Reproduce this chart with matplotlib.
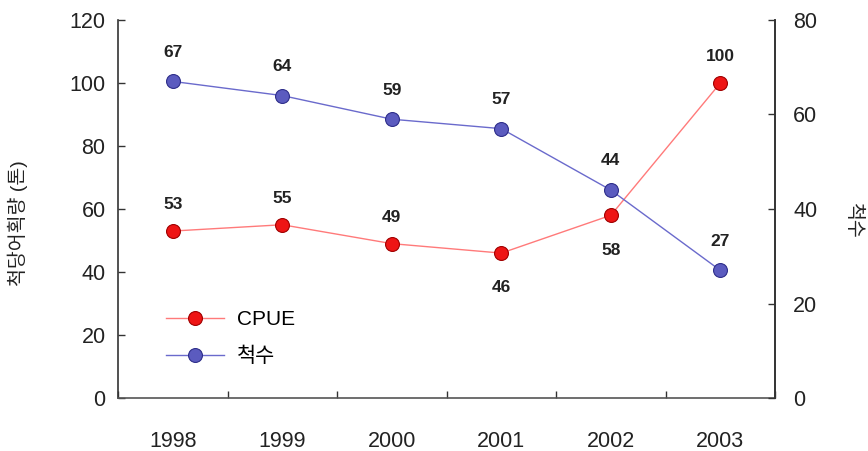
import numpy as np
import matplotlib
matplotlib.use('Agg')
import matplotlib.pyplot as plt
from matplotlib.lines import Line2D

# Fontes: latino em Liberation Sans, coreano cai para Noto Sans CJK KR
plt.rcParams['font.family'] = ['Liberation Sans', 'Noto Sans CJK KR']
plt.rcParams['axes.unicode_minus'] = False

anos = ['1998', '1999', '2000', '2001', '2002', '2003']
cpue = [53, 55, 49, 46, 58, 100]      # 척당어획량 (톤), eixo esquerdo
cheoksu = [67, 64, 59, 57, 44, 27]    # 척수, eixo direito
# rótulos do CPUE que ficam abaixo do ponto
cpue_abaixo = [False, False, False, True, True, False]

Cor_cpue_linha = '#ff7a7a'
Cor_cpue_ponto = '#ee1515'
Cor_cpue_borda = '#a00000'
Cor_ch_linha = '#6a6acc'
Cor_ch_ponto = '#5b5bbf'
Cor_ch_borda = '#2e2e8a'
Cor_eixo = '#333333'

fig = plt.figure(figsize=(8.68, 4.51), dpi=100)
ax1 = fig.add_axes([0.136, 0.1175, 0.757, 0.8382])
ax2 = ax1.twinx()

x = np.arange(len(anos))

ax1.plot(x, cpue, color=Cor_cpue_linha, linewidth=1.0, marker='o', markersize=10,
         markerfacecolor=Cor_cpue_ponto, markeredgecolor=Cor_cpue_borda,
         markeredgewidth=0.8, zorder=3)
ax2.plot(x, cheoksu, color=Cor_ch_linha, linewidth=1.0, marker='o', markersize=10,
         markerfacecolor=Cor_ch_ponto, markeredgecolor=Cor_ch_borda,
         markeredgewidth=0.8, zorder=3)

# rótulos de valor
for xi, v, baixo in zip(x, cpue, cpue_abaixo):
    dy = -25 if baixo else 19
    ax1.annotate(str(v), (xi, v), xytext=(0, dy), textcoords='offset points',
                 ha='center', va='center', fontsize=12.5, fontweight='bold',
                 color='#222222')
for xi, v in zip(x, cheoksu):
    ax2.annotate(str(v), (xi, v), xytext=(0, 21), textcoords='offset points',
                 ha='center', va='center', fontsize=12.5, fontweight='bold',
                 color='#222222')

ax1.set_xlim(-0.5, len(anos) - 0.5)
ax1.set_ylim(0, 120)
ax2.set_ylim(0, 80)
ax1.set_yticks(np.arange(0, 121, 20))
ax2.set_yticks(np.arange(0, 81, 20))

# anos no centro, traços nas divisões entre categorias
ax1.set_xticks(x)
ax1.set_xticklabels(anos)
ax1.set_xticks(np.arange(-0.5, len(anos) - 0.4, 1), minor=True)
ax1.tick_params(axis='x', which='major', length=0, pad=24, labelsize=15.5,
                colors='#222222')
ax1.tick_params(axis='x', which='minor', direction='in', length=5,
                width=1.0, color=Cor_eixo)
ax1.tick_params(axis='y', direction='in', length=5, width=1.0, pad=9,
                labelsize=15.5, colors='#222222', color=Cor_eixo)
ax2.tick_params(axis='y', direction='in', length=5, width=1.0, pad=13,
                labelsize=15.5, colors='#222222', color=Cor_eixo)

for ax in (ax1, ax2):
    ax.spines['top'].set_visible(False)
    ax.spines['left'].set_color(Cor_eixo)
    ax.spines['right'].set_color(Cor_eixo)
    ax.spines['bottom'].set_color('#555555')
    for s in ('left', 'right', 'bottom'):
        ax.spines[s].set_linewidth(1.2)
ax2.spines['left'].set_visible(False)
ax2.spines['bottom'].set_visible(False)

fig.text(0.021, 0.505, '척당어획량 (톤)', rotation=90, ha='center', va='center',
         fontsize=14, color='#222222')
fig.text(0.983, 0.51, '척수', rotation=-90, ha='center', va='center',
         fontsize=14, color='#222222')

handles = [
    Line2D([], [], color=Cor_cpue_linha, linewidth=1.0, marker='o', markersize=10,
           markerfacecolor=Cor_cpue_ponto, markeredgecolor=Cor_cpue_borda,
           markeredgewidth=0.8),
    Line2D([], [], color=Cor_ch_linha, linewidth=1.0, marker='o', markersize=10,
           markerfacecolor=Cor_ch_ponto, markeredgecolor=Cor_ch_borda,
           markeredgewidth=0.8),
]
ax2.legend(handles, ['CPUE', '척수'], loc='upper left',
           bbox_to_anchor=(0.06, 0.255), frameon=False, fontsize=15,
           handlelength=2.8, handletextpad=0.6, labelspacing=0.85,
           borderaxespad=0)

plt.savefig('out.png', dpi=100)
